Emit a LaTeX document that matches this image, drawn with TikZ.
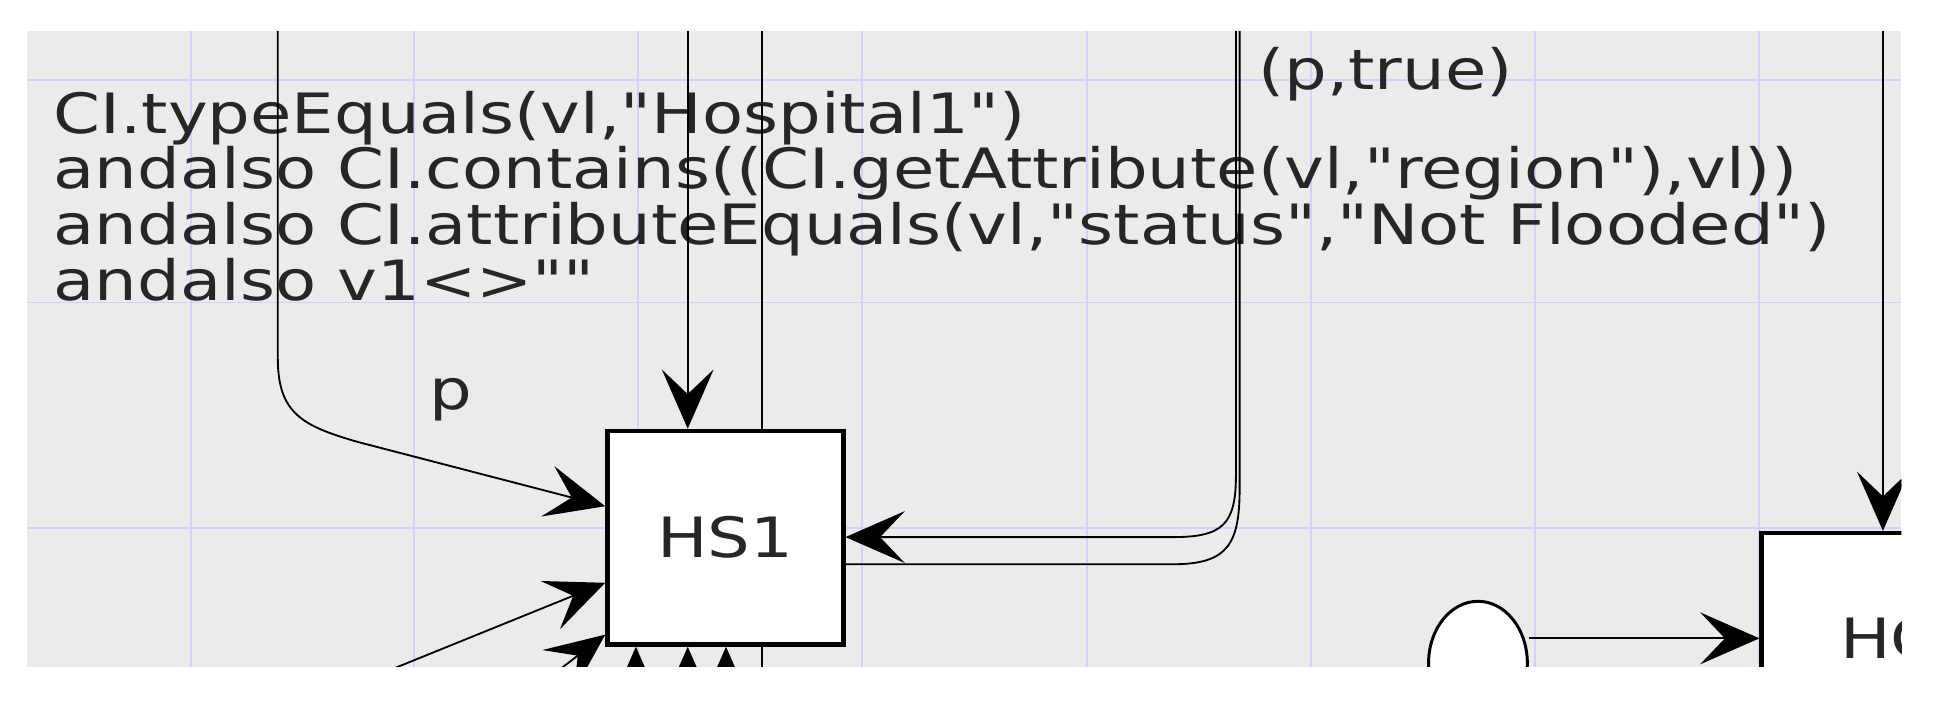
\documentclass[tikz,border=0pt]{standalone}
\usepackage{fontspec}
\setmainfont[Ligatures=TeXOff]{DejaVu Sans}
\usepackage{graphicx}
\usetikzlibrary{arrows.meta,shapes.geometric}
\newcommand{\wq}{\symbol{34}}
\newcommand{\wide}[1]{\scalebox{1.21}[1]{#1}}
\begin{document}
\begin{tikzpicture}[x=0.5pt,y=-0.5pt,
  arc/.style={line width=0.75pt,-{Stealth[length=24pt,width=21pt,inset=10pt]}},
  ln/.style={line width=0.75pt},
  place/.style={draw,line width=1.8pt,fill=white,inner sep=0pt},
  txt/.style={font=\fontsize{22.5}{22.5}\selectfont,inner sep=0pt,text=black!85},
  gridl/.style={color=blue!18,line width=0.8pt}]
\useasboundingbox (0,0) rectangle (1568,578);
\fill[white] (0,0) rectangle (1568,578);
\begin{scope}
\clip (22,25) rectangle (1540,540);
\fill[black!8] (22,25) rectangle (1540,540);
\foreach \x in {155,335,517,698,880,1062,1243,1425} \draw[gridl] (\x,25) -- (\x,540);
\foreach \y in {65,245,428} \draw[gridl] (22,\y) -- (1540,\y);
% text
\node[txt,anchor=base west] (t1) at (43,108) {\wide{CI.typeEquals(vl,\wq Hospital1\wq)}};
\node[txt,anchor=base west] (t2) at (43,153) {\wide{andalso CI.contains((CI.getAttribute(vl,\wq region\wq),vl))}};
\node[txt,anchor=base west] (t3) at (43,198) {\wide{andalso CI.attributeEquals(vl,\wq status\wq,\wq Not Flooded\wq)}};
\node[txt,anchor=base west] (t4) at (43,243) {\wide{andalso v1<>\wq\wq}};
\node[txt] (lp) at (365,324) {\wide{p}};
\node[txt] (lpt) at (1122,60) {\wide{(p,true)}};
% pass-through line
\draw[ln] (617,25) -- (617,545);
% nodes
\node[place,minimum width=95.5pt,minimum height=86.5pt] (hs1) at (587.5,435.5) {};
\node[txt] (hs1l) at (587.5,435.5) {\wide{HS1}};
\node[place,minimum width=100pt,minimum height=100pt,anchor=north west] (hc) at (1425,430) {};
\node[txt,anchor=west] (hcl) at (1490,517) {\wide{HC}};
\node[place,ellipse,line width=1.2pt,minimum width=40pt,minimum height=50pt] (el) at (1197,537) {};
% connectors
\coordinate (a0) at (225,25);
\draw[arc] (a0) -- (225,290) .. controls (225,335) and (245,345) .. (290,358) -- (hs1.west |- 0,410);
\coordinate (b0) at (557,25);
\draw[arc] (b0) -- (b0 |- hs1.north);
\coordinate (d0) at (1001,25);
\draw[arc] (d0) -- (1001,385) .. controls (1001,425) and (990,435) .. (950,435) -- (hs1.east |- 0,435);
\coordinate (d1) at (1004,25);
\draw[ln] (hs1.east |- 0,457) -- (950,457) .. controls (995,457) and (1004,440) .. (1004,395) -- (d1);
\coordinate (e0) at (1525,25);
\draw[arc] (e0) -- (e0 |- hc.north);
\draw[arc] (el.east |- 0,517) -- (hc.west |- 0,517);
\coordinate (f0) at (310,545);
\draw[arc] (f0) -- (hs1.west |- 0,472);
\coordinate (f1) at (430,560);
\draw[arc] (f1) -- (hs1.west |- 0,514);
\foreach \x/\n in {515/g1,557/g2,588/g3}{
  \coordinate (\n) at (\x,580);
  \draw[arc] (\n) -- (\n |- hs1.south);
}
\end{scope}
\end{tikzpicture}
\end{document}
